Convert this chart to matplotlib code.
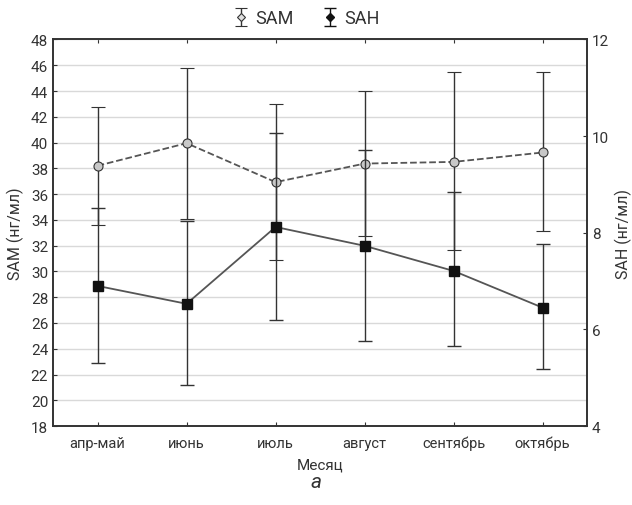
import matplotlib
matplotlib.use("Agg")
import matplotlib.pyplot as plt
import numpy as np

plt.rcParams['font.family'] = ['Roboto', 'DejaVu Sans']

months = ['апр-май', 'июнь', 'июль', 'август', 'сентябрь', 'октябрь']

# SAM, left axis (нг/мл)
sam = [38.2, 39.95, 36.93, 38.37, 38.5, 39.23]
sam_low = [33.62, 34.05, 30.9, 32.74, 31.63, 33.1]
sam_high = [42.74, 45.77, 43.0, 44.03, 45.48, 45.48]

# SAH, right axis (нг/мл)
sah = [6.90, 6.53, 8.12, 7.73, 7.21, 6.45]
sah_low = [5.31, 4.84, 6.20, 5.77, 5.65, 5.19]
sah_high = [8.52, 8.24, 10.07, 9.71, 8.84, 7.76]

txt = '#333333'
x = np.arange(len(months))

fig = plt.figure(figsize=(6.32, 5.06), dpi=100)
ax = fig.add_axes([0.084, 0.156, 0.845, 0.764])
ax2 = ax.twinx()

sam_err = [np.array(sam) - np.array(sam_low), np.array(sam_high) - np.array(sam)]
sah_err = [np.array(sah) - np.array(sah_low), np.array(sah_high) - np.array(sah)]

ax.errorbar(x, sam, yerr=sam_err, fmt='o', ls='--', color='#555555', lw=1.3,
            ecolor='#333333', elinewidth=1, capsize=5, capthick=1,
            mfc='#c8c8c8', mec='#333333', ms=6.5, mew=0.8, zorder=3)
ax2.errorbar(x, sah, yerr=sah_err, fmt='s', ls='-', color='#555555', lw=1.3,
             ecolor='#333333', elinewidth=1, capsize=5, capthick=1,
             mfc='#111111', mec='#111111', ms=6.5, zorder=3)

# legend proxies (symbol only, no connecting line)
p1 = ax.errorbar([np.nan], [np.nan], yerr=[1], fmt='D', ls='none', color='#333333',
                 elinewidth=1, capsize=4, mfc='#e0e0e0', mec='#333333', ms=4, mew=0.8)
p2 = ax.errorbar([np.nan], [np.nan], yerr=[1], fmt='D', ls='none', color='#111111',
                 elinewidth=1, capsize=4, mfc='#111111', mec='#111111', ms=4)

ax.set_xlim(-0.5, 5.5)
ax.set_ylim(18, 48)
ax.set_yticks(np.arange(18, 49, 2))
ax2.set_ylim(4, 12)
ax2.set_yticks([4, 6, 8, 10, 12])
ax.set_xticks(x)
ax.set_xticklabels(months)

ax.grid(axis='y', color='#d9d9d9', lw=1)
ax.set_axisbelow(True)

for a in (ax, ax2):
    a.tick_params(direction='in', length=3, color='#333333', labelcolor=txt, labelsize=11)
    for s in a.spines.values():
        s.set_color('#333333')
        s.set_linewidth(1.2)
ax.tick_params(axis='x', top=True, pad=7, labelsize=10.5)

ax.set_ylabel('SAM (нг/мл)', color=txt, fontsize=11.5, labelpad=5)
ax2.set_ylabel('SAH (нг/мл)', color=txt, fontsize=11.5, labelpad=4)
ax.set_xlabel('Месяц', color=txt, fontsize=11, labelpad=5)

fig.legend([p1, p2], ['SAM', 'SAH'], loc='upper center', bbox_to_anchor=(0.485, 1.012),
           ncol=2, frameon=False, fontsize=13, labelcolor=txt, handlelength=0.8,
           handletextpad=0.4, columnspacing=1.6)
fig.text(0.5, 0.047, 'а', ha='center', va='center', fontsize=15, style='italic', color=txt)

fig.savefig('out.png', dpi=100)
